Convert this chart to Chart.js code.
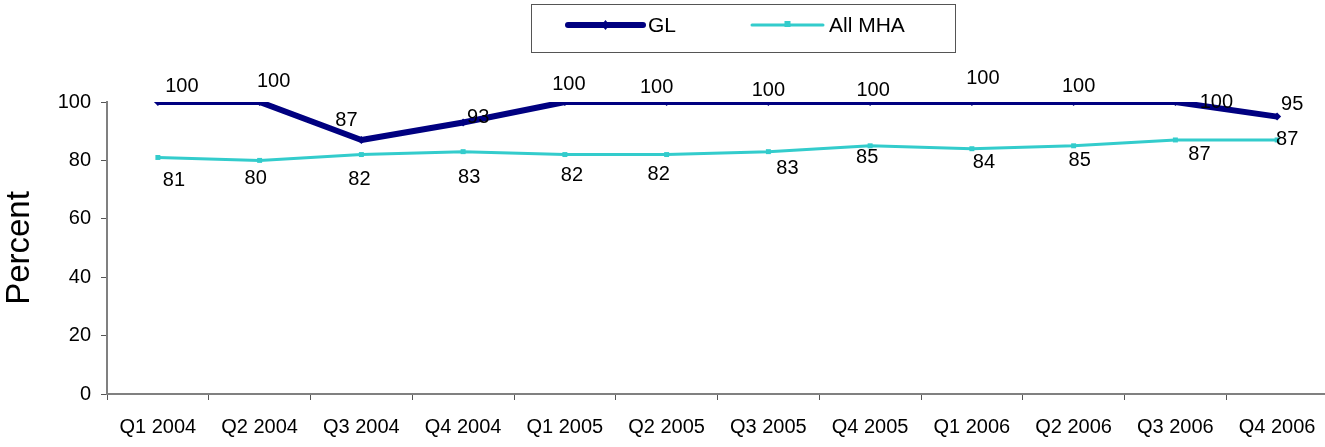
<!DOCTYPE html>
<html>
<head>
<meta charset="utf-8">
<title>GL vs All MHA</title>
<script src="https://cdn.jsdelivr.net/npm/chart.js@4.4.1/dist/chart.umd.min.js"></script>
<style>
  html, body { margin: 0; padding: 0; background: #fff; overflow: hidden; }
  #wrap { width: 1332px; height: 447px; }
</style>
</head>
<body>
<div id="wrap"><canvas id="chart" width="1332" height="447"></canvas></div>
<script>
// Quarterly categories
const quarters = [
  'Q1 2004', 'Q2 2004', 'Q3 2004', 'Q4 2004',
  'Q1 2005', 'Q2 2005', 'Q3 2005', 'Q4 2005',
  'Q1 2006', 'Q2 2006', 'Q3 2006', 'Q4 2006'
];
// Series values (percent)
const glValues  = [100, 100, 87, 93, 100, 100, 100, 100, 100, 100, 100, 95];
const mhaValues = [81, 80, 82, 83, 82, 82, 83, 85, 84, 85, 87, 87];
// Y axis ticks
const yTicks = [0, 20, 40, 60, 80, 100];

const FONT = '"Liberation Sans", Arial, Helvetica, sans-serif';

// Per-point label nudges (pixels) so labels sit clear of the lines
const labelNudges = [
  [[24, -16], [14, -21], [-15, -19], [15, -5], [4, -18], [-10, -15],
   [0, -12], [3, -12], [11, -24], [5, -16], [41, 0], [15, -12]],
  [[16, 23], [-4, 18], [-2, 25], [6, 26], [7, 21], [-8, 20],
   [19, 17], [-3, 12], [12, 14], [6, 15], [24, 15], [10, 0]]
];

// Value labels next to each point
const valueLabels = {
  id: 'valueLabels',
  afterDatasetsDraw(chart) {
    const ctx = chart.ctx;
    ctx.save();
    ctx.font = '20px ' + FONT;
    ctx.fillStyle = '#000';
    ctx.textAlign = 'center';
    ctx.textBaseline = 'middle';
    chart.data.datasets.forEach((ds, di) => {
      const meta = chart.getDatasetMeta(di);
      meta.data.forEach((pt, i) => {
        const n = (labelNudges[di] && labelNudges[di][i]) || [0, -14];
        ctx.fillText(String(ds.data[i]), pt.x + n[0], pt.y + n[1]);
      });
    });
    ctx.restore();
  }
};

// Boxed legend across the top
const boxedLegend = {
  id: 'boxedLegend',
  afterDraw(chart) {
    const ctx = chart.ctx;
    ctx.save();
    ctx.strokeStyle = '#555';
    ctx.lineWidth = 1;
    ctx.strokeRect(531.5, 4.5, 424, 48);
    const items = [
      { x0: 568, x1: 643, tx: 648 },
      { x0: 752, x1: 823, tx: 829 }
    ];
    const cy = 25;
    chart.data.datasets.forEach((ds, i) => {
      const it = items[i];
      ctx.strokeStyle = ds.borderColor;
      ctx.lineWidth = ds.borderWidth;
      ctx.lineCap = 'round';
      ctx.beginPath();
      ctx.moveTo(it.x0, cy);
      ctx.lineTo(it.x1, cy);
      ctx.stroke();
      ctx.fillStyle = ds.borderColor;
      const mx = (it.x0 + it.x1) / 2;
      if (ds.pointStyle === 'rectRot') {
        ctx.beginPath();
        ctx.moveTo(mx, cy - 5); ctx.lineTo(mx + 4, cy);
        ctx.lineTo(mx, cy + 5); ctx.lineTo(mx - 4, cy);
        ctx.closePath(); ctx.fill();
      } else {
        ctx.fillRect(mx - 3, cy - 4, 6, 6);
      }
      ctx.fillStyle = '#000';
      ctx.font = '21px ' + FONT;
      ctx.textAlign = 'left';
      ctx.textBaseline = 'middle';
      ctx.fillText(ds.label, it.tx, cy + 1);
    });
    ctx.restore();
  }
};

new Chart(document.getElementById('chart'), {
  type: 'line',
  data: {
    labels: quarters,
    datasets: [
      {
        label: 'GL',
        data: glValues,
        borderColor: '#000080',
        backgroundColor: '#000080',
        borderWidth: 6,
        borderJoinStyle: 'round',
        pointStyle: 'rectRot',
        pointRadius: 4,
        pointBorderWidth: 0,
        tension: 0
      },
      {
        label: 'All MHA',
        data: mhaValues,
        borderColor: '#33CCCC',
        backgroundColor: '#33CCCC',
        borderWidth: 3,
        borderJoinStyle: 'round',
        pointStyle: 'rect',
        pointRadius: 3.5,
        pointBorderWidth: 0,
        tension: 0
      }
    ]
  },
  options: {
    responsive: false,
    animation: false,
    devicePixelRatio: 1,
    layout: { padding: { top: 102, right: 4, bottom: 0, left: 0 } },
    plugins: {
      legend: { display: false },
      tooltip: { enabled: false },
      title: { display: false }
    },
    scales: {
      x: {
        type: 'category',
        offset: true,
        grid: {
          offset: true,
          drawOnChartArea: false,
          drawTicks: true,
          tickLength: 6,
          tickColor: '#555',
          tickWidth: 1
        },
        border: { display: true, color: '#808080', width: 2 },
        ticks: {
          color: '#000',
          font: { family: FONT, size: 20 },
          padding: 15,
          maxRotation: 0,
          autoSkip: false
        },
        afterFit(scale) { scale.height = 53; }
      },
      y: {
        min: 0,
        max: 100,
        afterBuildTicks(scale) { scale.ticks = yTicks.map(v => ({ value: v })); },
        grid: {
          drawOnChartArea: false,
          drawTicks: true,
          tickLength: 6,
          tickColor: '#555',
          tickWidth: 1
        },
        border: { display: true, color: '#808080', width: 2 },
        ticks: {
          color: '#000',
          font: { family: FONT, size: 20 },
          padding: 10
        },
        title: {
          display: true,
          text: 'Percent',
          color: '#000',
          font: { family: FONT, size: 33 },
          padding: { top: 0, bottom: 0 }
        },
        afterFit(scale) { scale.width = 107; }
      }
    }
  },
  plugins: [valueLabels, boxedLegend]
});
</script>
</body>
</html>
